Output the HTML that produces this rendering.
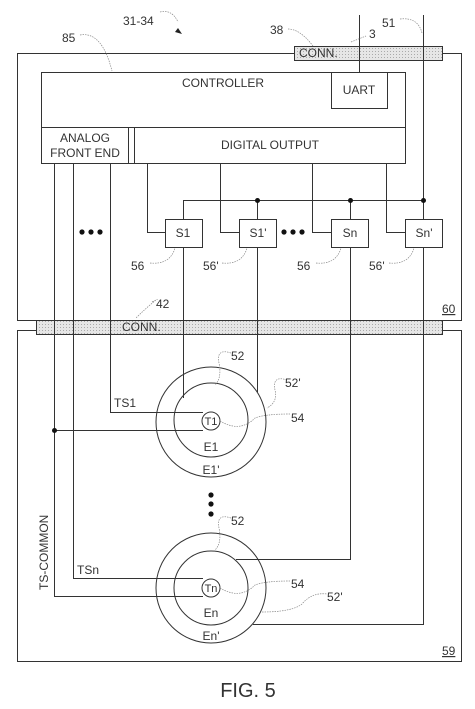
<!DOCTYPE html>
<html><head><meta charset="utf-8"><style>
html,body{margin:0;padding:0;background:#fff;}
svg{display:block;}
text{font-family:"Liberation Sans",sans-serif;fill:#333;font-size:12px;}
</style></head><body>
<svg width="475" height="709" viewBox="0 0 475 709" xmlns="http://www.w3.org/2000/svg">
<defs>
<pattern id="dots" width="3" height="3" patternUnits="userSpaceOnUse">
<rect width="3" height="3" fill="#e6e6e6"/><rect width="1" height="1" fill="#aaa"/>
</pattern>
</defs>
<g stroke="#333" stroke-width="1" fill="none">
<rect x="17.5" y="53.5" width="444" height="267"/>
<rect x="17.5" y="330.5" width="444" height="331"/>
<rect x="41.5" y="72.5" width="364" height="91"/>
<line x1="41" y1="127.5" x2="405" y2="127.5"/>
<rect x="331.5" y="72.5" width="56" height="36"/>
<line x1="128.5" y1="127" x2="128.5" y2="163"/>
<line x1="134.5" y1="127" x2="134.5" y2="163"/>
<line x1="359.5" y1="15" x2="359.5" y2="72"/>
<polyline points="423.5,15 423.5,624.5 253,624.5"/>
<polyline points="54.5,163 54.5,596.5 203,596.5"/>
<line x1="54.5" y1="430.5" x2="203" y2="430.5"/>
<polyline points="73.5,163 73.5,578.5 203,578.5"/>
<polyline points="110.5,163 110.5,412.5 203,412.5"/>
<polyline points="147.5,163 147.5,232.5 165,232.5"/>
<polyline points="220.5,163 220.5,232.5 239,232.5"/>
<polyline points="312.5,163 312.5,232.5 331,232.5"/>
<polyline points="386.5,163 386.5,232.5 405,232.5"/>
<polyline points="183.5,219 183.5,200.5 423.5,200.5"/>
<line x1="257.5" y1="200" x2="257.5" y2="219"/>
<line x1="350.5" y1="200" x2="350.5" y2="219"/>
<rect x="165.5" y="219.5" width="37" height="28" fill="#fff"/>
<rect x="239.5" y="219.5" width="37" height="28" fill="#fff"/>
<rect x="331.5" y="219.5" width="37" height="28" fill="#fff"/>
<rect x="405.5" y="219.5" width="37" height="28" fill="#fff"/>
<line x1="183.5" y1="247" x2="183.5" y2="398"/>
<line x1="257.5" y1="247" x2="257.5" y2="392"/>
<polyline points="350.5,247 350.5,559.5 236,559.5"/>
<circle cx="211" cy="422" r="55"/>
<circle cx="211" cy="420" r="37"/>
<circle cx="211" cy="421" r="9" fill="#fff"/>
<circle cx="211" cy="588" r="55"/>
<circle cx="211" cy="588" r="37"/>
<circle cx="211" cy="588" r="9" fill="#fff"/>
</g>
<rect x="294.5" y="46.5" width="148" height="14" fill="url(#dots)" stroke="#333"/>
<rect x="36.5" y="320.5" width="406" height="14" fill="url(#dots)" stroke="#333"/>
<g stroke="#333" stroke-width="1">
<line x1="359.5" y1="46" x2="359.5" y2="61"/>
<line x1="423.5" y1="46" x2="423.5" y2="61"/>
<line x1="54.5" y1="320" x2="54.5" y2="335"/>
<line x1="73.5" y1="320" x2="73.5" y2="335"/>
<line x1="110.5" y1="320" x2="110.5" y2="335"/>
<line x1="183.5" y1="320" x2="183.5" y2="335"/>
<line x1="257.5" y1="320" x2="257.5" y2="335"/>
<line x1="350.5" y1="320" x2="350.5" y2="335"/>
<line x1="423.5" y1="320" x2="423.5" y2="335"/>
</g>
<g fill="#111">
<circle cx="257.5" cy="200.5" r="2.5"/><circle cx="350.5" cy="200.5" r="2.5"/><circle cx="423.5" cy="200.5" r="2.5"/>
<circle cx="54.5" cy="430.5" r="2.5"/>
<circle cx="82" cy="232" r="2.6"/><circle cx="91" cy="232" r="2.6"/><circle cx="100" cy="232" r="2.6"/>
<circle cx="284" cy="232" r="2.6"/><circle cx="293" cy="232" r="2.6"/><circle cx="302" cy="232" r="2.6"/>
<circle cx="211" cy="495" r="2.6"/><circle cx="211" cy="504" r="2.6"/><circle cx="211" cy="514" r="2.6"/>
</g>
<g stroke="#888" stroke-width="0.7" fill="none" stroke-dasharray="1.5,1">
<path d="M160,12 q12,-3 18,10"/>
<path d="M80,35 q22,-4 32,36"/>
<path d="M288,29 q12,0 25,17"/>
<path d="M351,42 l15,-6"/>
<path d="M400,19 q18,-2 22,14"/>
<path d="M150,263 q20,2 25,-15"/>
<path d="M222,263 q20,2 25,-15"/>
<path d="M316,263 q20,2 25,-15"/>
<path d="M389,263 q20,2 25,-15"/>
<path d="M152,302 q8,-4 4,-2 q-10,8 -20,18"/>
<path d="M231,353 q-15,-5 -12,10 q3,15 -4,22"/>
<path d="M287,380 q-15,-5 -12,10 q3,12 -8,18"/>
<path d="M220,421 q20,12 35,-3 q10,-4 35,-4"/>
<path d="M231,518 q-15,-5 -12,10 q3,15 -4,22"/>
<path d="M220,588 q20,12 35,-3 q10,-4 35,-4"/>
<path d="M262,612 q30,0 40,-8 q10,-12 25,-10"/>
</g>
<path d="M178,28 l4,6 l-7,-2 z" fill="#222"/>
<text x="123" y="25">31-34</text>
<text x="62" y="42">85</text>
<text x="270" y="34">38</text>
<text x="369" y="38">3</text>
<text x="382" y="27">51</text>
<text x="299" y="57">CONN.</text>
<text x="223" y="87" text-anchor="middle">CONTROLLER</text>
<text x="359" y="94" text-anchor="middle">UART</text>
<text x="85" y="142" text-anchor="middle">ANALOG</text>
<text x="85" y="157" text-anchor="middle">FRONT END</text>
<text x="270" y="149" text-anchor="middle">DIGITAL OUTPUT</text>
<text x="183" y="237" text-anchor="middle">S1</text>
<text x="258" y="237" text-anchor="middle">S1'</text>
<text x="350" y="237" text-anchor="middle">Sn</text>
<text x="424" y="237" text-anchor="middle">Sn'</text>
<text x="131" y="270">56</text>
<text x="203" y="270">56'</text>
<text x="297" y="270">56</text>
<text x="369" y="270">56'</text>
<text x="156" y="308">42</text>
<text x="442" y="313" text-decoration="underline">60</text>
<text x="122" y="331">CONN.</text>
<text x="231" y="360">52</text>
<text x="285" y="387">52'</text>
<text x="291" y="422">54</text>
<text x="114" y="407">TS1</text>
<text x="211" y="425" text-anchor="middle" style="font-size:11px">T1</text>
<text x="211" y="451" text-anchor="middle">E1</text>
<text x="211" y="474" text-anchor="middle">E1'</text>
<text x="231" y="525">52</text>
<text x="291" y="588">54</text>
<text x="327" y="601">52'</text>
<text x="77" y="574">TSn</text>
<text x="211" y="592" text-anchor="middle" style="font-size:11px">Tn</text>
<text x="211" y="617" text-anchor="middle">En</text>
<text x="211" y="640" text-anchor="middle">En'</text>
<text x="442" y="655" text-decoration="underline">59</text>
<text transform="translate(48,590) rotate(-90)">TS-COMMON</text>
<text x="248" y="697" text-anchor="middle" style="font-size:20px">FIG. 5</text>
</svg>
</body></html>
